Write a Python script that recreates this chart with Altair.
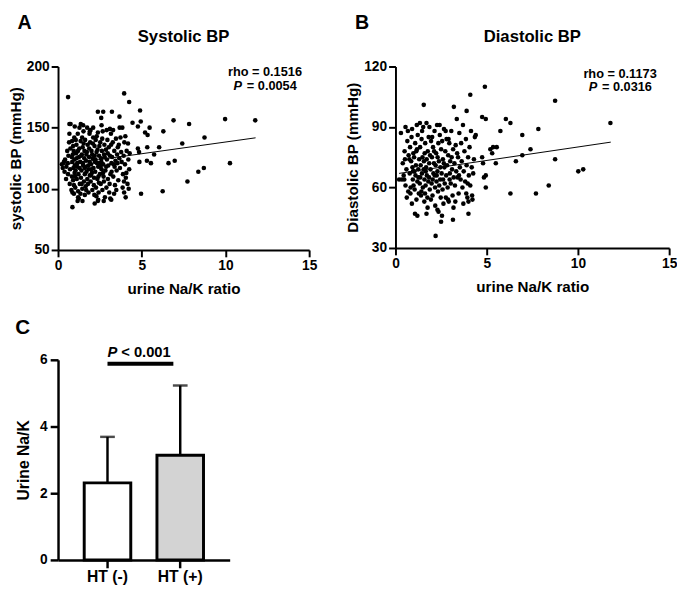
import altair as alt
import pandas as pd

FONT = "Liberation Sans"

# ---------------- Panel A: urine Na/K ratio vs systolic BP ----------------
sbp_points = [
    (0.6, 175), (3.95, 178), (4.25, 171), (2.38, 163), (2.7, 163), (3.22, 163), (4.9, 164),
    (2.58, 158), (3.67, 159), (4.45, 154), (4.94, 155), (4.77, 151), (5.47, 150), (5.2, 146),
    (5.35, 144), (6.9, 156), (7.83, 153), (9.98, 157), (11.78, 156), (6.29, 147), (8.75, 142),
    (7.42, 137), (6.04, 134), (5.33, 134), (4.77, 133), (4.84, 130), (5.74, 128), (4.86, 122),
    (5.31, 123), (5.55, 121), (6.6, 121), (6.97, 123), (10.27, 121), (8.71, 117), (8.38, 114),
    (7.73, 106), (6.25, 98), (4.96, 96), (3.95, 97), (4.04, 93), (0.86, 85), (1.17, 90),
    (2.19, 88), (2.38, 90), (2.73, 90), (3.18, 91), (0.39, 114), (0.23, 120), (0.68, 153),
    (0.68, 145),
    (0.42, 124), (0.5, 118), (0.55, 131), (0.6, 112), (0.48, 108), (0.62, 127), (0.66, 138),
    (0.58, 121), (0.7, 104), (0.72, 116), (0.74, 133),
    (0.8, 99), (0.83, 110), (0.85, 122), (0.88, 128), (0.9, 135), (0.92, 117), (0.95, 103),
    (0.97, 142), (0.99, 113), (0.82, 126), (0.86, 97), (0.94, 131), (1.0, 119), (0.9, 107),
    (0.98, 124), (0.84, 139),
    (1.03, 101), (1.05, 115), (1.08, 129), (1.1, 136), (1.12, 108), (1.15, 121), (1.18, 145),
    (1.2, 98), (1.22, 112), (1.25, 126), (1.27, 133), (1.3, 104), (1.06, 140), (1.14, 118),
    (1.24, 92), (1.28, 150), (1.11, 125), (1.19, 131), (1.02, 110), (1.29, 117),
    (1.32, 122), (1.35, 139), (1.37, 109), (1.4, 115), (1.42, 128), (1.45, 100), (1.47, 134),
    (1.5, 119), (1.52, 147), (1.55, 106), (1.57, 125), (1.6, 112), (1.34, 96), (1.44, 142),
    (1.48, 121), (1.58, 131), (1.36, 153), (1.53, 137), (1.41, 104), (1.59, 117), (1.46, 90),
    (1.39, 127),
    (1.62, 140), (1.65, 102), (1.67, 123), (1.7, 114), (1.72, 130), (1.75, 108), (1.77, 136),
    (1.8, 119), (1.82, 97), (1.85, 126), (1.88, 145), (1.9, 111), (1.64, 118), (1.74, 150),
    (1.79, 104), (1.86, 133), (1.69, 128), (1.83, 116), (1.68, 99), (1.89, 122),
    (1.92, 138), (1.95, 106), (1.97, 120), (2.0, 131), (2.02, 113), (2.05, 99), (2.07, 125),
    (2.1, 142), (2.12, 117), (2.15, 109), (2.18, 135), (2.2, 122), (1.94, 148), (2.04, 128),
    (2.14, 103), (1.99, 116), (2.08, 137), (2.17, 95), (2.19, 127), (1.96, 111),
    (2.22, 114), (2.25, 140), (2.27, 101), (2.3, 130), (2.33, 121), (2.35, 108), (2.38, 146),
    (2.4, 118), (2.42, 97), (2.45, 127), (2.47, 135), (2.5, 112), (2.24, 124), (2.36, 132),
    (2.44, 105), (2.29, 94), (2.48, 121), (2.31, 143), (2.41, 110),
    (2.52, 138), (2.55, 104), (2.57, 125), (2.6, 116), (2.62, 131), (2.65, 99), (2.67, 147),
    (2.7, 120), (2.72, 110), (2.75, 128), (2.77, 136), (2.8, 93), (2.54, 118), (2.64, 141),
    (2.74, 106), (2.59, 122), (2.69, 113), (2.79, 126),
    (2.83, 115), (2.86, 132), (2.89, 101), (2.92, 124), (2.95, 140), (2.98, 108), (3.0, 119),
    (3.03, 134), (3.06, 97), (3.1, 127), (3.13, 112), (3.16, 145), (3.19, 121), (2.88, 118),
    (2.97, 129), (3.08, 104), (3.17, 136), (2.91, 148), (3.12, 92), (3.2, 114),
    (3.23, 126), (3.27, 138), (3.3, 110), (3.33, 120), (3.36, 131), (3.4, 103), (3.43, 123),
    (3.46, 141), (3.5, 115), (3.53, 128), (3.57, 134), (3.6, 107), (3.29, 148), (3.38, 118),
    (3.48, 99), (3.55, 121),
    (3.63, 136), (3.66, 125), (3.7, 117), (3.73, 142), (3.77, 130), (3.8, 122), (3.84, 150),
    (3.88, 112), (3.92, 127), (3.96, 138), (4.0, 120), (4.05, 109), (4.1, 131), (4.15, 104),
    (4.2, 124), (4.25, 116), (3.68, 150), (3.86, 101), (4.02, 143), (4.18, 137), (4.08, 113),
    (3.94, 106), (4.22, 100), (4.28, 129),
    (1.0, 151), (1.5, 152), (0.75, 153), (2.1, 150), (2.6, 152), (3.1, 149), (1.9, 147),
    (0.35, 122), (0.28, 117), (1.2, 93), (1.6, 95), (0.95, 96), (2.4, 91), (3.35, 96),
]
sbp_fit_ratio = [0.2, 11.8]
sbp_fit_bp = [119.5, 141.7]

# ---------------- Panel B: urine Na/K ratio vs diastolic BP ----------------
dbp_points = [
    (4.9, 110), (4.1, 106), (8.75, 103), (3.2, 100), (1.55, 101), (3.9, 98), (4.75, 95),
    (4.95, 94), (6.05, 94), (6.3, 92), (11.78, 92), (7.83, 89), (5.75, 88), (6.95, 86),
    (4.4, 86), (5.35, 80), (5.55, 80), (5.2, 79), (7.4, 79), (5.3, 77), (6.95, 76), (5.5, 72),
    (6.6, 73), (8.75, 74), (4.75, 75), (4.8, 72), (10.02, 68), (10.29, 69), (8.4, 61),
    (7.7, 57), (6.3, 57), (4.95, 60), (4.85, 65), (4.95, 66), (2.2, 36), (2.5, 43),
    (3.15, 44), (4.0, 47), (1.2, 46), (1.7, 47), (2.3, 49), (0.3, 87), (0.55, 90),
    (0.35, 64), (0.2, 64),
    (0.4, 72), (0.45, 66), (0.5, 78), (0.55, 61), (0.6, 69), (0.65, 83), (0.7, 58),
    (0.52, 74), (0.62, 55), (0.68, 88), (0.48, 64), (0.72, 76),
    (0.78, 67), (0.8, 80), (0.83, 60), (0.86, 73), (0.88, 85), (0.9, 52), (0.93, 70),
    (0.95, 64), (0.98, 77), (0.82, 57), (0.91, 89), (0.96, 68), (0.76, 74), (0.99, 61),
    (1.02, 75), (1.05, 59), (1.08, 82), (1.1, 66), (1.12, 71), (1.15, 54), (1.18, 79),
    (1.2, 63), (1.22, 86), (1.25, 69), (1.28, 57), (1.3, 74), (1.07, 47), (1.17, 91),
    (1.26, 65), (1.04, 68), (1.14, 78),
    (1.33, 62), (1.35, 80), (1.38, 71), (1.4, 56), (1.43, 84), (1.45, 67), (1.48, 75),
    (1.5, 60), (1.52, 90), (1.55, 69), (1.58, 53), (1.6, 77), (1.36, 65), (1.46, 88),
    (1.56, 73), (1.42, 58), (1.34, 92), (1.59, 64),
    (1.63, 82), (1.65, 61), (1.68, 70), (1.7, 92), (1.72, 66), (1.75, 55), (1.77, 78),
    (1.8, 63), (1.82, 85), (1.85, 72), (1.88, 59), (1.9, 76), (1.66, 68), (1.76, 50),
    (1.86, 90), (1.71, 74), (1.84, 65), (1.62, 57),
    (1.92, 69), (1.95, 83), (1.98, 62), (2.0, 75), (2.03, 56), (2.06, 80), (2.08, 67),
    (2.11, 72), (2.14, 88), (2.17, 60), (2.2, 71), (1.94, 54), (2.04, 64), (2.12, 78),
    (2.18, 51), (2.01, 85), (2.15, 66),
    (2.23, 77), (2.25, 63), (2.28, 91), (2.3, 68), (2.33, 58), (2.35, 82), (2.38, 73),
    (2.4, 61), (2.43, 86), (2.46, 70), (2.48, 55), (2.5, 79), (2.26, 66), (2.36, 48),
    (2.45, 64), (2.31, 75), (2.42, 91),
    (2.53, 67), (2.56, 83), (2.58, 59), (2.6, 74), (2.63, 52), (2.66, 89), (2.68, 70),
    (2.7, 62), (2.73, 78), (2.76, 55), (2.78, 66), (2.8, 84), (2.55, 46), (2.65, 72),
    (2.75, 88), (2.61, 64),
    (2.83, 71), (2.86, 60), (2.89, 76), (2.92, 53), (2.95, 82), (2.98, 67), (3.0, 73),
    (3.03, 62), (3.06, 88), (3.1, 69), (3.13, 56), (3.16, 79), (3.19, 65), (2.88, 54),
    (2.97, 64), (3.08, 75), (3.18, 50), (2.91, 84),
    (3.23, 72), (3.26, 61), (3.3, 81), (3.33, 68), (3.36, 94), (3.4, 65), (3.43, 75),
    (3.46, 57), (3.5, 87), (3.53, 70), (3.57, 64), (3.6, 82), (3.28, 53), (3.38, 77),
    (3.48, 66),
    (3.63, 73), (3.67, 60), (3.7, 91), (3.74, 68), (3.78, 78), (3.82, 63), (3.86, 84),
    (3.9, 71), (3.94, 55), (3.98, 75), (4.02, 66), (4.06, 80), (4.1, 61), (4.14, 88),
    (4.18, 70), (4.22, 54), (4.26, 67), (4.3, 74), (3.72, 52), (3.88, 57), (4.0, 53),
    (4.2, 56), (4.35, 85), (3.96, 62),
]
dbp_fit_ratio = [0.2, 11.8]
dbp_fit_bp = [67.0, 82.5]

# ---------------- Panel C: urine Na/K by hypertension ----------------
groups = ["HT (-)", "HT (+)"]
group_means = [2.31, 3.14]
group_upper = [3.69, 5.23]
group_fill = ["white", "#d3d3d3"]


def axis(title, values=None, labelsize=14, titlesize=15.5, dw=2, lp=2, ts=7, **kw):
    if values is not None:
        kw["values"] = values
    return alt.Axis(
        title=title, grid=False,
        domainColor="black", domainWidth=dw, tickColor="black", tickWidth=dw, tickSize=ts,
        labelFont=FONT, labelFontSize=labelsize, labelFontWeight="bold", labelColor="black",
        labelPadding=lp, labelFlush=False, labelOverlap=False,
        titleFont=FONT, titleFontSize=titlesize, titleFontWeight="bold", titleColor="black",
        **kw,
    )


def txt(size, **kw):
    return dict(font=FONT, fontSize=size, fontWeight="bold", color="black", **kw)


def scatter(points, fit_x, fit_y, ydom, yticks, ytitle, title, letter, rho, pval,
            ann_x, ann_y1, ann_y2, w, h):
    df = pd.DataFrame(points, columns=["ratio", "bp"])
    fit = pd.DataFrame({"ratio": fit_x, "bp": fit_y})
    xs = alt.Scale(domain=[0, 15], nice=False, zero=False)
    ys = alt.Scale(domain=ydom, nice=False, zero=False)
    X = alt.X("ratio:Q", scale=xs,
              axis=axis("urine Na/K ratio", [0, 5, 10, 15], titlePadding=9))
    Y = alt.Y("bp:Q", scale=ys, axis=axis(ytitle, yticks, titlePadding=3))
    pts = alt.Chart(df).mark_circle(size=22, color="black", opacity=1).encode(x=X, y=Y)
    line = alt.Chart(fit).mark_line(color="black", strokeWidth=1).encode(x="ratio:Q", y="bp:Q")
    one = pd.DataFrame({"k": [0]})
    t_rho = alt.Chart(one).mark_text(**txt(13, align="center", baseline="alphabetic")).encode(
        x=alt.datum(ann_x), y=alt.datum(ann_y1), text=alt.value(rho))
    t_p = alt.Chart(one).mark_text(**txt(13, align="left", baseline="alphabetic",
                                         fontStyle="italic", dx=-32)).encode(
        x=alt.datum(ann_x), y=alt.datum(ann_y2), text=alt.value("P"))
    t_p2 = alt.Chart(one).mark_text(**txt(13, align="left", baseline="alphabetic", dx=-18.5)).encode(
        x=alt.datum(ann_x), y=alt.datum(ann_y2), text=alt.value(pval))
    t_letter = alt.Chart(one).mark_text(**txt(20, align="center", baseline="alphabetic")).encode(
        x=alt.value(-34), y=alt.value(-38), text=alt.value(letter))
    t_title = alt.Chart(one).mark_text(**txt(17, align="center", baseline="alphabetic")).encode(
        x=alt.value(w / 2), y=alt.value(-24.5), text=alt.value(title))
    return alt.layer(pts, line, t_rho, t_p, t_p2, t_letter, t_title).properties(
        width=w, height=h)


chart_a = scatter(sbp_points, sbp_fit_ratio, sbp_fit_bp, [50, 200], [50, 100, 150, 200],
                  "systolic BP (mmHg)", "Systolic BP", "A", "rho = 0.1516", "= 0.0054",
                  12.36, 192, 180.8, 256, 187)
chart_b = scatter(dbp_points, dbp_fit_ratio, dbp_fit_bp, [30, 120], [30, 60, 90, 120],
                  "Diastolic BP (mmHg)", "Diastolic BP", "B", "rho = 0.1173", "= 0.0316",
                  12.31, 114.2, 107.8, 279, 185)

bar_df = pd.DataFrame({"group": groups, "mean": group_means, "upper": group_upper})
XC = alt.X("group:N", sort=groups,
           scale=alt.Scale(domain=groups, paddingInner=0.36, paddingOuter=0.36),
           axis=axis(None, labelsize=16, dw=2.5, lp=1, ts=8, labelAngle=0))
YS = alt.Scale(domain=[0, 6], nice=False, zero=True)
base = alt.Chart(bar_df)
err = base.mark_rule(color="black", strokeWidth=2.5).encode(
    x=XC, y=alt.Y("mean:Q", scale=YS, axis=axis("Urine Na/K", [0, 2, 4, 6], labelsize=14,
                                                titlesize=16, dw=2.5, lp=3, ts=8,
                                                titlePadding=8)),
    y2="upper:Q")
cap = base.mark_tick(color="black", thickness=2.5, size=15).encode(x=XC, y="upper:Q")
bars = base.mark_bar(stroke="black", strokeWidth=3).encode(
    x=XC, y="mean:Q",
    fill=alt.Fill("group:N", scale=alt.Scale(domain=groups, range=group_fill), legend=None))
sig = pd.DataFrame({"a": [groups[0]], "b": [groups[1]]})
bracket = alt.Chart(sig).mark_rule(color="black", strokeWidth=4, x2Offset=-7).encode(
    x=alt.X("a:N", sort=groups), x2="b:N", y=alt.datum(5.88))
sig_p = alt.Chart(sig).mark_text(**txt(15, align="left", baseline="alphabetic",
                                      fontStyle="italic", dy=-7)).encode(
    x=alt.X("a:N", sort=groups), y=alt.datum(5.88), text=alt.value("P"))
sig_t = alt.Chart(sig).mark_text(**txt(15, align="left", baseline="alphabetic", dx=14, dy=-7)).encode(
    x=alt.X("a:N", sort=groups), y=alt.datum(5.88), text=alt.value("< 0.001"))
letter_c = alt.Chart(sig).mark_text(**txt(21, align="center", baseline="alphabetic")).encode(
    x=alt.value(-36), y=alt.value(-26), text=alt.value("C"))
chart_c = alt.layer(err, cap, bars, bracket, sig_p, sig_t, letter_c).properties(
    width=175, height=204)

chart = alt.vconcat(
    alt.hconcat(chart_a, chart_b, spacing=29),
    chart_c,
    spacing=21,
).properties(
    padding=0
).configure_view(stroke=None)

chart.save("out.html", embed_options={"renderer": "svg", "actions": False})
